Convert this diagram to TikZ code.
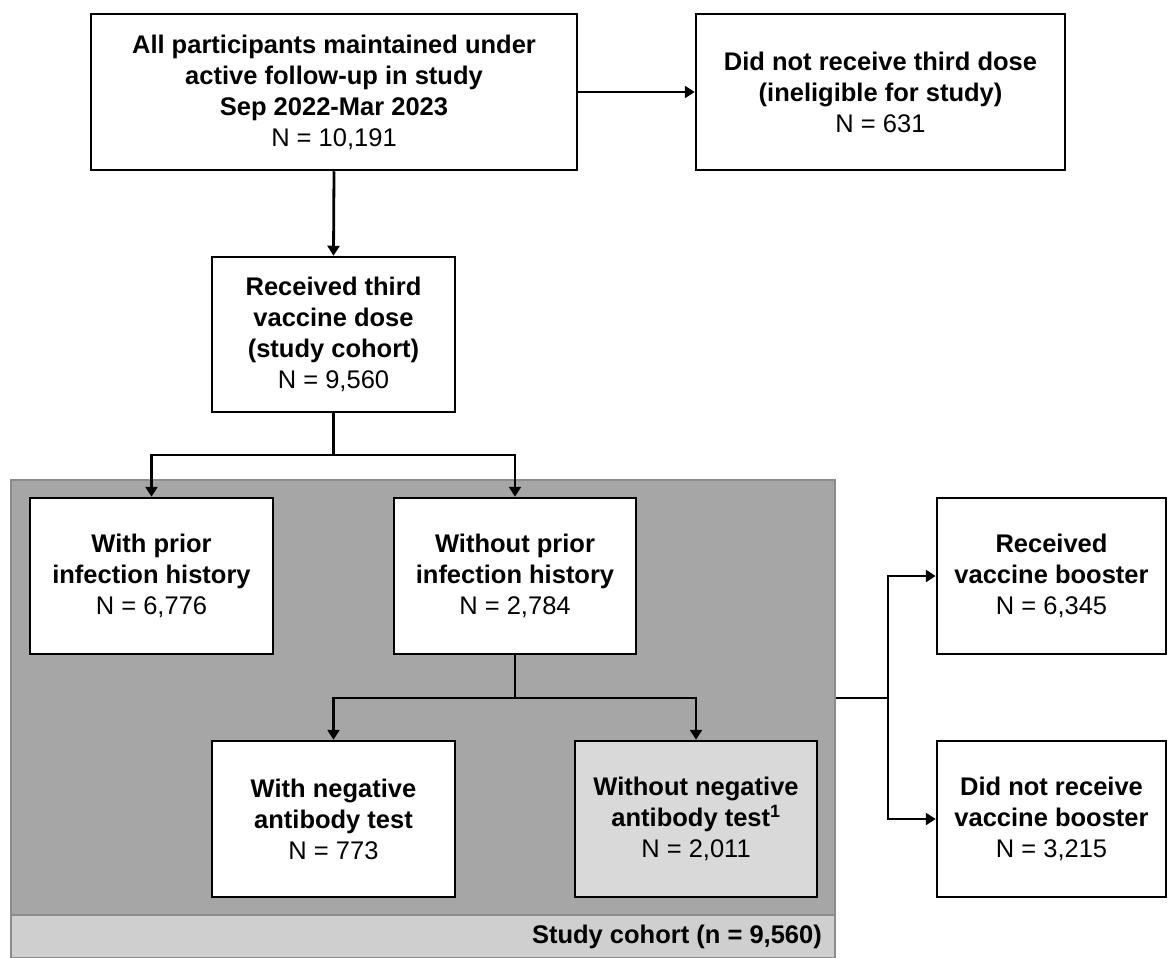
\documentclass[tikz,border=0pt]{standalone}
\usepackage{fontspec}
\setmainfont{Liberation Sans}
\usetikzlibrary{arrows.meta,calc}
\definecolor{cohortgray}{HTML}{A6A6A6}
\definecolor{cohortedge}{HTML}{8C8C8C}
\definecolor{bandgray}{HTML}{CFCFCF}
\definecolor{lightbox}{HTML}{D9D9D9}
\begin{document}
\begin{tikzpicture}[x=1pt,y=-1pt,
  box/.style={draw=black, line width=2.5pt, fill=white, inner sep=0pt, align=center,
    font=\fontsize{25.5}{31}\selectfont},
  arr/.style={line width=2.8pt, -{Triangle[length=10pt,width=12pt]}},
  ln/.style={line width=2.8pt}]
\useasboundingbox (0,0) rectangle (1170,958);

% study cohort region
\node[draw=cohortedge, line width=1.5pt, fill=cohortgray, minimum width=824pt, minimum height=478pt, inner sep=0pt] (cohort) at (423,719) {};
\fill[bandgray] (11.75,915) rectangle (834.25,957.25);
\draw[cohortedge, line width=1.5pt] (11.75,915) -- (834.25,915);
\node[anchor=east, inner sep=0pt, font=\fontsize{25.5}{31}\selectfont\bfseries] (band) at (822,937) {Study cohort (n = 9,560)};

% boxes
\node[box, minimum width=486pt, minimum height=156pt] (top) at (334,92)
  {\bfseries All participants maintained under\\ \bfseries active follow-up in study\\ \bfseries Sep 2022-Mar 2023\\ N = 10,191};
\node[box, minimum width=369pt, minimum height=156pt] (excl) at (880.5,92)
  {\bfseries Did not receive third dose\\ \bfseries (ineligible for study)\\ N = 631};
\node[box, minimum width=243pt, minimum height=155pt] (b2) at (333.5,334.5)
  {\bfseries Received third\\ \bfseries vaccine dose\\ \bfseries (study cohort)\\ N = 9,560};
\node[box, minimum width=243pt, minimum height=156pt] (withp) at (151.5,576)
  {\bfseries With prior\\ \bfseries infection history\\ N = 6,776};
\node[box, minimum width=242pt, minimum height=156pt] (woutp) at (515,576)
  {\bfseries Without prior\\ \bfseries infection history\\ N = 2,784};
\node[box, minimum width=243pt, minimum height=156pt] (withn) at (333.5,819)
  {\bfseries With negative\\ \bfseries antibody test\\ N = 773};
\node[box, fill=lightbox, minimum width=242pt, minimum height=156pt] (woutn) at (696,819)
  {\bfseries Without negative\\ \bfseries antibody test\textsuperscript{1}\\ N = 2,011};
\node[box, minimum width=229pt, minimum height=156pt] (recv) at (1051.5,576)
  {\bfseries Received\\ \bfseries vaccine booster\\ N = 6,345};
\node[box, minimum width=229pt, minimum height=156pt] (notrecv) at (1051.5,819)
  {\bfseries Did not receive\\ \bfseries vaccine booster\\ N = 3,215};

% connectors
\draw[arr] (top.east) -- (excl.west);
\draw[arr] (top.south) -- (b2.north);

\coordinate (s1) at (333.5,455);
\draw[ln] (b2.south) -- (s1);
\draw[arr] (s1) -| (withp.north);
\draw[arr] (s1) -| (woutp.north);

\coordinate (s2) at (515,698);
\draw[ln] (woutp.south) -- (s2);
\draw[arr] (s2) -| (withn.north);
\draw[arr] (s2) -| (woutn.north);

\coordinate (r0) at (cohort.east |- s2);
\coordinate (r1) at (888,698);
\draw[ln] (r0) -- (r1);
\draw[arr] (r1) |- (recv.west);
\draw[arr] (r1) |- (notrecv.west);
\end{tikzpicture}
\end{document}
